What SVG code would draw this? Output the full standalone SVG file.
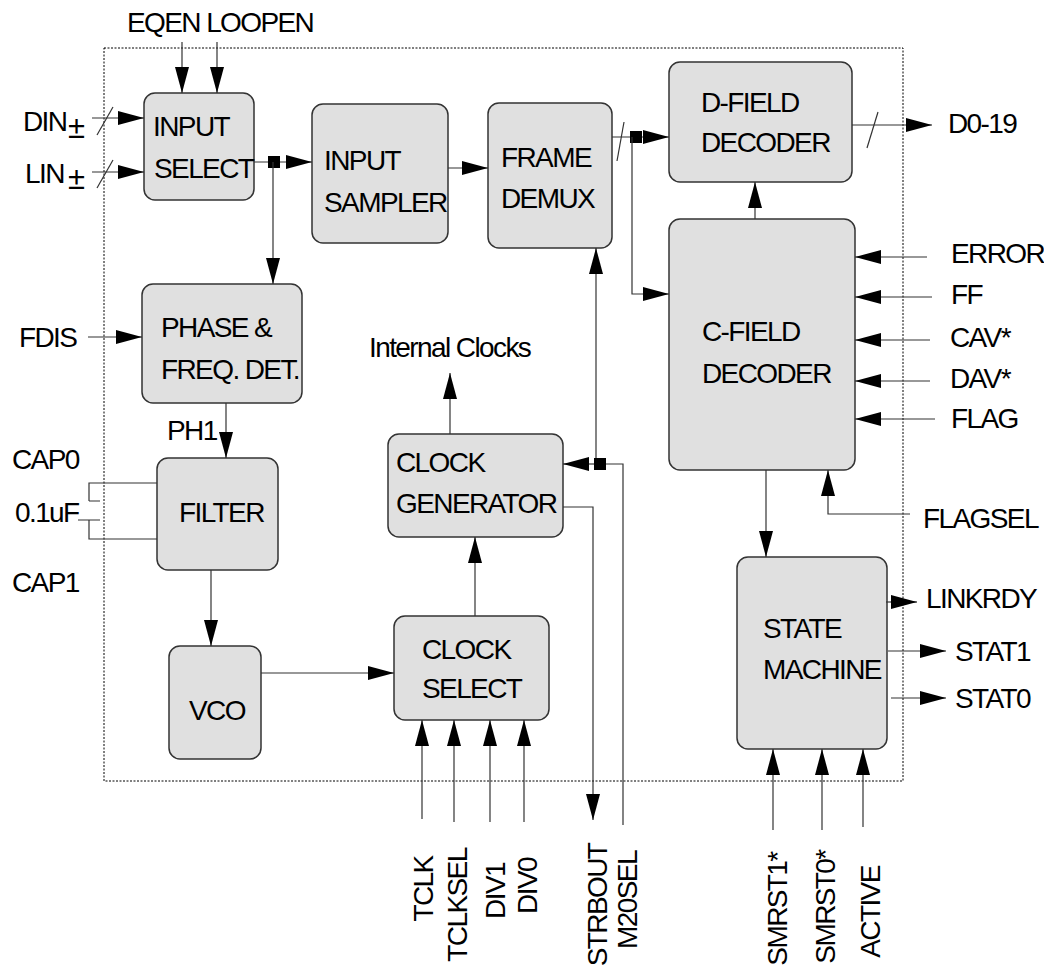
<svg xmlns="http://www.w3.org/2000/svg" width="1044" height="979" viewBox="0 0 1044 979">
<defs>
<marker id="ah" markerUnits="userSpaceOnUse" markerWidth="26" markerHeight="14" viewBox="0 0 26 14" refX="26" refY="7" orient="auto"><path d="M0,0 L26,7 L0,14 z" fill="#000"/></marker>
</defs>
<style>
.node{fill:#e0e0e0;stroke:#333;stroke-width:1.5}
.t{font-family:"Liberation Sans",Arial,sans-serif;font-size:28px;letter-spacing:-1.6px;fill:#000}
.pm{font-size:31px;letter-spacing:0}
.v{text-anchor:middle}
.c{fill:none;stroke:#333;stroke-width:1.2}
.a{marker-end:url(#ah)}
.j{fill:#000}
</style>
<rect x="104" y="48" width="799" height="733" fill="none" stroke="#000" stroke-width="1" stroke-dasharray="2,1.5"/>

<g id="input-select"><rect class="node" x="144" y="93" width="110" height="107" rx="11"/><text class="t" x="153" y="136">INPUT</text><text class="t" x="154" y="178">SELECT</text></g>
<g id="input-sampler"><rect class="node" x="312" y="104" width="136" height="139" rx="11"/><text class="t" x="324" y="170">INPUT</text><text class="t" x="324" y="212">SAMPLER</text></g>
<g id="frame-demux"><rect class="node" x="488" y="103" width="124" height="145" rx="11"/><text class="t" x="501" y="167">FRAME</text><text class="t" x="501" y="208">DEMUX</text></g>
<g id="d-field-decoder"><rect class="node" x="669" y="62" width="183" height="120" rx="11"/><text class="t" x="701" y="112">D-FIELD</text><text class="t" x="701" y="152">DECODER</text></g>
<g id="c-field-decoder"><rect class="node" x="669" y="219" width="186" height="251" rx="11"/><text class="t" x="702" y="341">C-FIELD</text><text class="t" x="702" y="383">DECODER</text></g>
<g id="phase-freq-det"><rect class="node" x="142" y="284" width="160" height="119" rx="11"/><text class="t" x="161" y="337">PHASE &amp;</text><text class="t" x="161" y="379">FREQ. DET.</text></g>
<g id="filter"><rect class="node" x="157" y="458" width="121" height="112" rx="11"/><text class="t" x="179" y="522">FILTER</text></g>
<g id="clock-generator"><rect class="node" x="388" y="434" width="175" height="103" rx="11"/><text class="t" x="396" y="472">CLOCK</text><text class="t" x="396" y="513">GENERATOR</text></g>
<g id="vco"><rect class="node" x="169" y="646" width="92" height="113" rx="11"/><text class="t" x="189" y="720">VCO</text></g>
<g id="clock-select"><rect class="node" x="394" y="616" width="155" height="104" rx="11"/><text class="t" x="422" y="659">CLOCK</text><text class="t" x="422" y="698">SELECT</text></g>
<g id="state-machine"><rect class="node" x="737" y="557" width="150" height="192" rx="11"/><text class="t" x="763" y="638">STATE</text><text class="t" x="763" y="679">MACHINE</text></g>

<g id="connectors">
<path class="c a" d="M182,42 V93"/>
<path class="c a" d="M217,42 V93"/>
<path class="c a" d="M92,118 H144"/>
<path class="c" d="M97,135 L113,107"/>
<path class="c a" d="M92,172 H144"/>
<path class="c" d="M97,188 L113,160"/>
<path class="c a" d="M254,162 H312"/>
<rect class="j" x="268" y="156" width="12" height="12"/>
<path class="c a" d="M273,162 V284"/>
<path class="c a" d="M448,168 H488"/>
<path class="c a" d="M612,137 H669"/>
<path class="c" d="M617,161 L624,122"/>
<rect class="j" x="630" y="131" width="12" height="12"/>
<path class="c a" d="M632,137 V294 H669"/>
<path class="c a" d="M852,125 H932"/>
<path class="c" d="M867,148 L878,112"/>
<path class="c a" d="M755,219 V182"/>
<path class="c a" d="M927,257 H855"/>
<path class="c a" d="M932,297 H855"/>
<path class="c a" d="M930,340 H855"/>
<path class="c a" d="M930,381 H855"/>
<path class="c a" d="M935,419 H855"/>
<path class="c a" d="M910,514 H828 V470"/>
<path class="c a" d="M766,470 V557"/>
<path class="c a" d="M886,602 H917"/>
<path class="c a" d="M888,651 H946"/>
<path class="c a" d="M891,698 H946"/>
<path class="c a" d="M773,830 V749"/>
<path class="c a" d="M822,830 V749"/>
<path class="c a" d="M863,827 V749"/>
<path class="c a" d="M88,337 H142"/>
<path class="c a" d="M226,403 V458"/>
<path class="c" d="M157,483 H89 V501 M89,501 H100 M78,520 H100 M89,520 V539 H157"/>
<path class="c a" d="M211,570 V646"/>
<path class="c a" d="M261,673 H394"/>
<path class="c a" d="M475,616 V537"/>
<path class="c a" d="M450,434 V373"/>
<path class="c a" d="M422,819 V720"/>
<path class="c a" d="M454,822 V720"/>
<path class="c a" d="M490,822 V720"/>
<path class="c a" d="M524,822 V720"/>
<path class="c a" d="M563,507 H593 V820"/>
<path class="c" d="M623,825 V464 H606"/>
<rect class="j" x="594" y="458" width="12" height="12"/>
<path class="c a" d="M594,464 H563"/>
<path class="c a" d="M596,458 V248"/>
</g>

<g id="labels">
<text class="t" x="127" y="32">EQEN LOOPEN</text>
<text class="t" x="23" y="131">DIN</text><text class="t pm" x="68" y="138">±</text>
<text class="t" x="25" y="183">LIN</text><text class="t pm" x="68" y="189">±</text>
<text class="t" x="19" y="347">FDIS</text>
<text class="t" x="167" y="440">PH1</text>
<text class="t" x="12" y="469">CAP0</text>
<text class="t" x="15" y="522">0.1uF</text>
<text class="t" x="12" y="592">CAP1</text>
<text class="t" x="369" y="357">Internal Clocks</text>
<text class="t" x="948" y="133">D0-19</text>
<text class="t" x="951" y="263">ERROR</text>
<text class="t" x="951" y="304">FF</text>
<text class="t" x="950" y="347">CAV*</text>
<text class="t" x="950" y="388">DAV*</text>
<text class="t" x="951" y="428">FLAG</text>
<text class="t" x="923" y="528">FLAGSEL</text>
<text class="t" x="926" y="608">LINKRDY</text>
<text class="t" x="955" y="661">STAT1</text>
<text class="t" x="955" y="708">STAT0</text>
<text class="t v" transform="translate(433,889) rotate(-90)">TCLK</text>
<text class="t v" transform="translate(467,905) rotate(-90)">TCLKSEL</text>
<text class="t v" transform="translate(505,891) rotate(-90)">DIV1</text>
<text class="t v" transform="translate(537,886) rotate(-90)">DIV0</text>
<text class="t v" transform="translate(607,905) rotate(-90)">STRBOUT</text>
<text class="t v" transform="translate(637,900) rotate(-90)">M20SEL</text>
<text class="t v" transform="translate(787,909) rotate(-90)">SMRST1*</text>
<text class="t v" transform="translate(835,907) rotate(-90)">SMRST0*</text>
<text class="t v" transform="translate(880,912) rotate(-90)">ACTIVE</text>
</g>
</svg>
